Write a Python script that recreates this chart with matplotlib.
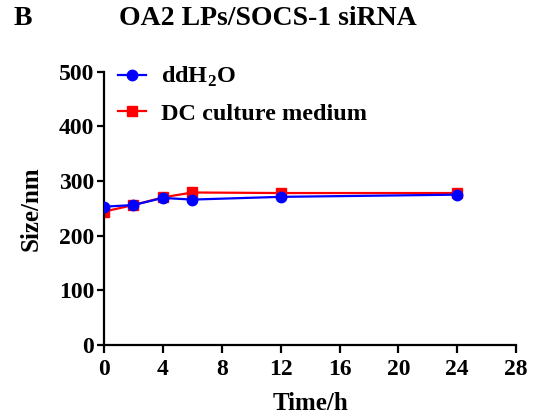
import matplotlib.pyplot as plt

plt.rcParams['font.family'] = ['Liberation Serif', 'DejaVu Serif']
plt.rcParams['font.weight'] = 'bold'
plt.rcParams['mathtext.fontset'] = 'custom'
plt.rcParams['mathtext.bf'] = 'Liberation Serif:bold'
plt.rcParams['mathtext.rm'] = 'Liberation Serif:bold'

time_h = [0, 2, 4, 6, 12, 24]
size_water = [253, 256, 269, 266, 271, 275]
size_medium = [244, 256, 270, 279, 278, 278]

fig = plt.figure(figsize=(5.36, 4.2), dpi=100)
ax = fig.add_axes([0.194, 0.179, 0.769, 0.650])

ax.plot(time_h, size_water, color='blue', marker='o', markersize=7.5, lw=1.6,
        label='ddH$_\\mathrm{2}$O', zorder=3)
ax.plot(time_h, size_medium, color='red', marker='s', markersize=6.5, lw=1.6,
        label='DC culture medium', zorder=2)

ax.set_xlim(0, 28)
ax.set_ylim(0, 500)
ax.set_xticks(range(0, 29, 4))
ax.set_yticks(range(0, 501, 100))
for s in ['top', 'right']:
    ax.spines[s].set_visible(False)
for s in ['left', 'bottom']:
    ax.spines[s].set_linewidth(1.6)
ax.tick_params(width=1.6, length=5, labelsize=17, pad=2)
ax.tick_params(axis='x', length=6, pad=4)
ax.set_xlabel('Time/h', fontsize=18, fontweight='bold', labelpad=9)
ax.set_ylabel('Size/nm', fontsize=18, fontweight='bold', labelpad=12)

ax.legend(loc='upper left', bbox_to_anchor=(-0.02, 1.105), frameon=False,
          handlelength=1.15, handletextpad=0.65, labelspacing=0.55,
          prop={'weight': 'bold', 'size': 17.5})

fig.text(0.5, 0.957, 'OA2 LPs/SOCS-1 siRNA', ha='center', va='center',
         fontsize=20, fontweight='bold')
fig.text(0.025, 0.957, 'B', ha='left', va='center', fontsize=20, fontweight='bold')

fig.savefig('out.png', dpi=100)
